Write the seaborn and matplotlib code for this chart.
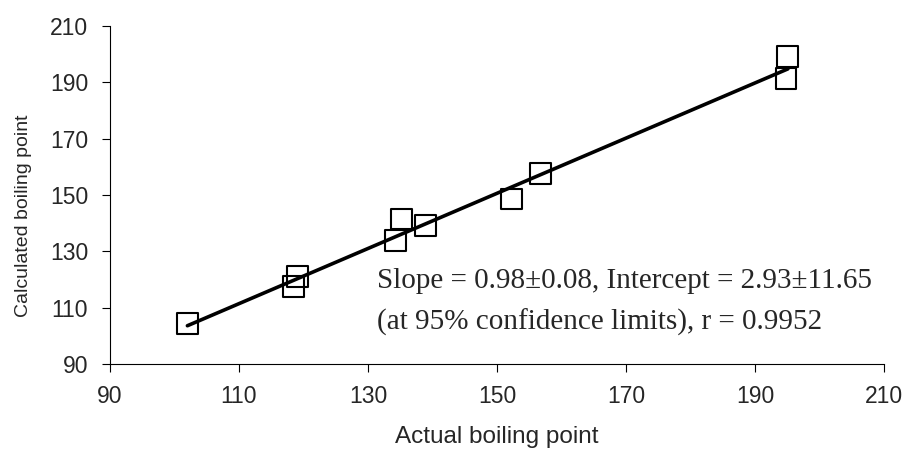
import matplotlib
matplotlib.use("Agg")
import matplotlib.pyplot as plt
import seaborn as sns
import pandas as pd

# valores
actual_bp = [102.0, 118.5, 119.1, 134.3, 135.2, 138.9, 152.3, 156.7, 195.1, 194.8]
calc_bp = [104.5, 117.4, 121.0, 133.8, 141.5, 139.3, 148.6, 157.7, 199.0, 191.2]
ticks = [90, 110, 130, 150, 170, 190, 210]

df = pd.DataFrame({"actual": actual_bp, "calc": calc_bp})

sns.set_style("ticks")
plt.rcParams["font.family"] = ["Liberation Sans", "DejaVu Sans"]

fig = plt.figure(figsize=(9.09, 4.54), dpi=100)
ax = fig.add_axes([0.121, 0.198, 0.8515, 0.745])

sns.regplot(data=df, x="actual", y="calc", ax=ax, ci=None, marker="s",
            scatter_kws=dict(s=225, facecolors="none", edgecolors="black",
                             linewidths=1.5, alpha=1),
            line_kws=dict(color="black", lw=2.6))

ax.set_xlim(90, 210)
ax.set_ylim(90, 210)
ax.set_xticks(ticks)
ax.set_yticks(ticks)
ax.tick_params(axis="both", labelsize=16.5, length=5.8, width=0.8, color="black")
ax.tick_params(axis="x", pad=9)
ax.tick_params(axis="y", pad=10)
sns.despine(ax=ax)
for s in ["left", "bottom"]:
    ax.spines[s].set_color("black")
    ax.spines[s].set_linewidth(0.8)

ax.set_xlabel("Actual boiling point", fontsize=17.5, labelpad=13)
ax.set_ylabel("Calculated boiling point", fontsize=14)
ax.yaxis.set_label_coords(-0.101, 0.44)

# texto de la regresion
ax.text(131.4, 117.0, "Slope = 0.98\u00b10.08, Intercept = 2.93\u00b111.65",
        fontsize=21, family=["Liberation Serif"], va="baseline")
ax.text(131.4, 102.1, "(at 95% confidence limits), r = 0.9952",
        fontsize=21, family=["Liberation Serif"], va="baseline")

fig.savefig("out.png", dpi=100)
